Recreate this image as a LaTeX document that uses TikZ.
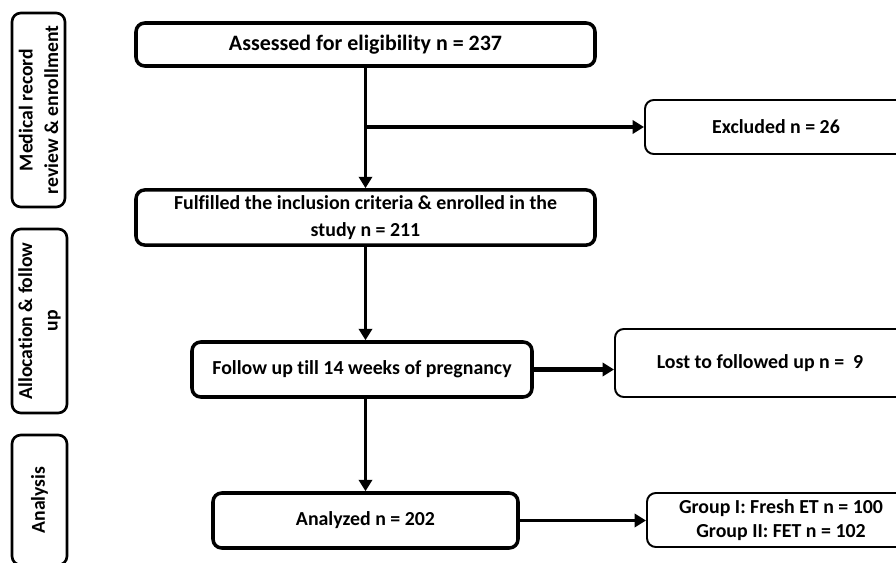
\documentclass[tikz,border=0pt]{standalone}
\usepackage{fontspec}
\setmainfont{Carlito}[Ligatures=NoCommon]
\usetikzlibrary{arrows.meta}

\begin{document}
\begin{tikzpicture}
    \tikzstyle{fleche}=[-{Triangle[length=6.5pt,width=7.5pt]},line width=2.2pt]
\tikzset{etape/.style={draw,line width=2pt,rounded corners=5pt,align=center,
  minimum height=1.1cm,font=\fontsize{11.3}{15}\selectfont\bfseries},
sortie/.style={draw,line width=1.1pt,rounded corners=5pt,align=center,
  font=\fontsize{11.3}{13.6}\selectfont\bfseries},
phase/.style={draw,line width=1.5pt,rounded corners=5pt,align=center,rotate=90,
  inner sep=1pt,font=\fontsize{11.2}{14.5}\selectfont\bfseries}}
\clip (0,0) rectangle (17.92,-11.26);

% phases a gauche
\node[phase,minimum width=3.88cm,minimum height=1.06cm] (P1) at (0.77,-2.2){Medical record\\review \& enrollment};
\node[phase,minimum width=3.68cm,minimum height=1.1cm] (P2) at (0.79,-6.42){Allocation \& follow\\up};
\node[phase,minimum width=2.6cm,minimum height=1.1cm] (P3) at (0.79,-10){Analysis};

% etapes
\node[etape,minimum width=9.18cm,minimum height=0.86cm,font=\fontsize{12.5}{15}\selectfont\bfseries] (A) at (7.31,-0.89){Assessed for eligibility n = 237};
\node[etape,minimum width=9.18cm] (B) at (7.31,-4.35){Fulfilled the inclusion criteria \& enrolled in the\\study n = 211};
\node[etape,minimum width=6.8cm] (C) at (7.24,-7.39){Follow up till 14 weeks of pregnancy};
\node[etape,minimum width=6.1cm] (D) at (7.31,-10.41){Analyzed n = 202};

% sorties
\node[sortie,minimum width=5.24cm,minimum height=1.08cm] (E) at (15.52,-2.54){Excluded n = 26};
\node[sortie,minimum width=5.8cm,minimum height=1.36cm] (F) at (15.2,-7.26){Lost to followed up n =\ \ 9};
\node[sortie,minimum width=5.36cm,minimum height=1.08cm] (G) at (15.62,-10.4){Group I: Fresh ET n = 100\\Group II: FET n = 102};

\draw[fleche] (A) -- (B);
\draw[fleche] (A.south |- E.west) -- (E.west);
\draw[fleche] (B.south) -- (B.south |- C.north);
\draw[fleche,line width=2.6pt] (C.east) -- (C.east -| F.west);
\draw[fleche] (D.north |- C.south) -- (D.north);
\draw[fleche] (D.east) -- (D.east -| G.west);

  \end{tikzpicture}
\end{document}
